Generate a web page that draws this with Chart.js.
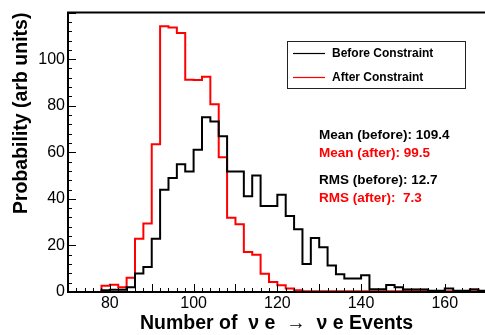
<!DOCTYPE html>
<html>
<head>
<meta charset="utf-8">
<script src="https://cdn.jsdelivr.net/npm/chart.js@4.4.0/dist/chart.umd.min.js"></script>
<style>
  html, body { margin: 0; padding: 0; background: #fff; overflow: hidden; }
</style>
</head>
<body>
<canvas id="histChart" width="485" height="335"></canvas>
<script>
// histogram bins: 2 events wide, starting at 70
const binLow = 70;
const binWidth = 2;

// Before Constraint, one value per bin (70-72, 72-74, ...)
const beforeCounts = [
  0, 0, 0, 0, 0.8, 1.0, 1.0, 2.0, 7.9, 10.7,
  22.9, 43.9, 49.0, 54.9, 51.8, 61.1, 75.1, 73.2, 66.9, 51.8,
  51.8, 41.1, 50.0, 36.9, 36.9, 41.8, 32.6, 27.0, 12.0, 23.2,
  19.2, 11.4, 7.6, 5.8, 5.8, 7.2, 1.2, 1.2, 3.0, 2.0,
  1.1, 1.1, 1.1, 0.5, 0.5, 1.5, 0.5, 0.5, 1.1, 0.5
];

// After Constraint
const afterCounts = [
  0, 0, 0, 0, 2.7, 3.1, 2.0, 6.1, 22.9, 29.4,
  63.5, 114.1, 113.6, 111.2, 91.2, 91.1, 92.5, 80.6, 57.9, 31.9,
  29.1, 17.2, 16.0, 7.8, 4.3, 2.9, 1.5, 0.8, 0.3, 0.3,
  0.3, 0.3, 0.3, 0.3, 0.3, 0.3, 0.3, 0.3, 0.3, 0.3,
  1.0, 1.0, 1.0, 0.3, 0.3, 0.3, 0.3, 0.3, 1.1, 0.3
];

const seriesNames = ['Before Constraint', 'After Constraint'];
const seriesColors = ['#000000', '#ff0000'];

const xTickLabels = [80, 100, 120, 140, 160];
const yTickLabels = [0, 20, 40, 60, 80, 100];

const statLines = [
  'Mean (before): 109.4',
  'Mean (after): 99.5',
  'RMS (before): 12.7',
  'RMS (after):  7.3'
];
const statColors = ['#000000', '#ff0000', '#000000', '#ff0000'];

const FONT = '"Liberation Sans", Arial, Helvetica, sans-serif';

// outline points at the bin edges, drawn with stepped lines
function toSteps(counts) {
  const pts = counts.map((c, i) => ({ x: binLow + i * binWidth, y: c }));
  pts.push({ x: binLow + counts.length * binWidth, y: counts[counts.length - 1] });
  return pts;
}

// frame + inward ticks, like the original plot
const framePlugin = {
  id: 'frame',
  afterDatasetsDraw(chart) {
    const { ctx, chartArea: a, scales } = chart;
    const xs = scales.x, ys = scales.y;
    ctx.save();
    ctx.strokeStyle = '#000';
    ctx.lineWidth = 1;
    ctx.beginPath();
    for (let v = 70; v <= xs.max; v += 2) {
      const px = Math.round(xs.getPixelForValue(v)) + 0.5;
      const len = v % 10 === 0 ? 8 : 4;
      ctx.moveTo(px, a.bottom);
      ctx.lineTo(px, a.bottom - len);
    }
    for (let v = 0; v <= ys.max; v += 4) {
      const py = Math.round(ys.getPixelForValue(v)) + 0.5;
      const len = v % 20 === 0 ? 8 : 4;
      ctx.moveTo(a.left, py);
      ctx.lineTo(a.left + len, py);
    }
    ctx.stroke();

    ctx.lineWidth = 2;
    ctx.beginPath();
    ctx.moveTo(a.right + 2, a.top);
    ctx.lineTo(a.left, a.top);
    ctx.lineTo(a.left, a.bottom);
    ctx.lineTo(a.right + 2, a.bottom);
    ctx.stroke();
    ctx.restore();
  },
  afterDraw(chart) {
    const ctx = chart.ctx;
    ctx.save();
    // legend box
    ctx.fillStyle = '#fff';
    ctx.fillRect(287.5, 41.5, 178, 47);
    ctx.strokeStyle = '#222';
    ctx.lineWidth = 1;
    ctx.strokeRect(287.5, 41.5, 178, 47);
    ctx.font = 'bold 12px ' + FONT;
    ctx.textBaseline = 'middle';
    ctx.textAlign = 'left';
    seriesNames.forEach((name, i) => {
      const y = 53 + i * 24;
      ctx.strokeStyle = seriesColors[i];
      ctx.lineWidth = 1.2;
      ctx.beginPath();
      ctx.moveTo(293, y + 0.5);
      ctx.lineTo(325, y + 0.5);
      ctx.stroke();
      ctx.fillStyle = '#000';
      ctx.fillText(name, 332, y + 1);
    });
    // summary numbers
    ctx.font = 'bold 13.5px ' + FONT;
    ctx.textBaseline = 'alphabetic';
    const baselines = [138.5, 157, 183.5, 201.5];
    statLines.forEach((t, i) => {
      ctx.fillStyle = statColors[i];
      ctx.fillText(t, 319, baselines[i]);
    });
    ctx.restore();
  }
};

const ctx = document.getElementById('histChart').getContext('2d');
const histChart = new Chart(ctx, {
  type: 'line',
  data: {
    datasets: [
      {
        label: seriesNames[0],
        data: toSteps(beforeCounts),
        borderColor: seriesColors[0],
        borderWidth: 2,
        stepped: 'before',
        pointRadius: 0,
        fill: false
      },
      {
        label: seriesNames[1],
        data: toSteps(afterCounts),
        borderColor: seriesColors[1],
        borderWidth: 2,
        stepped: 'before',
        pointRadius: 0,
        fill: false
      }
    ]
  },
  options: {
    responsive: false,
    animation: false,
    layout: { padding: { top: 9, right: 0, left: 0, bottom: 0 } },
    plugins: {
      legend: { display: false },
      tooltip: { enabled: false }
    },
    scales: {
      x: {
        type: 'linear',
        min: 70,
        max: 169.6,
        grid: { display: false, drawTicks: false },
        border: { display: false },
        afterBuildTicks: s => { s.ticks = xTickLabels.map(v => ({ value: v })); },
        afterFit: s => { s.height = 43; },
        ticks: {
          color: '#000',
          padding: 2,
          maxRotation: 0,
          font: { family: FONT, size: 16 }
        },
        title: {
          display: true,
          text: 'Number of  ν e  →  ν e Events',
          color: '#000',
          padding: { top: 0, bottom: 0 },
          font: { family: FONT, size: 19.5, weight: 'bold' }
        }
      },
      y: {
        min: 0,
        max: 120,
        grid: { display: false, drawTicks: false },
        border: { display: false },
        afterBuildTicks: s => { s.ticks = yTickLabels.map(v => ({ value: v })); },
        afterFit: s => { s.width = 68; },
        ticks: {
          color: '#000',
          padding: 3,
          font: { family: FONT, size: 16 }
        },
        title: {
          display: true,
          text: 'Probability (arb units)',
          align: 'end',
          color: '#000',
          padding: { top: 10, bottom: 0 },
          font: { family: FONT, size: 19.5, weight: 'bold' }
        }
      }
    }
  },
  plugins: [framePlugin]
});
</script>
</body>
</html>
